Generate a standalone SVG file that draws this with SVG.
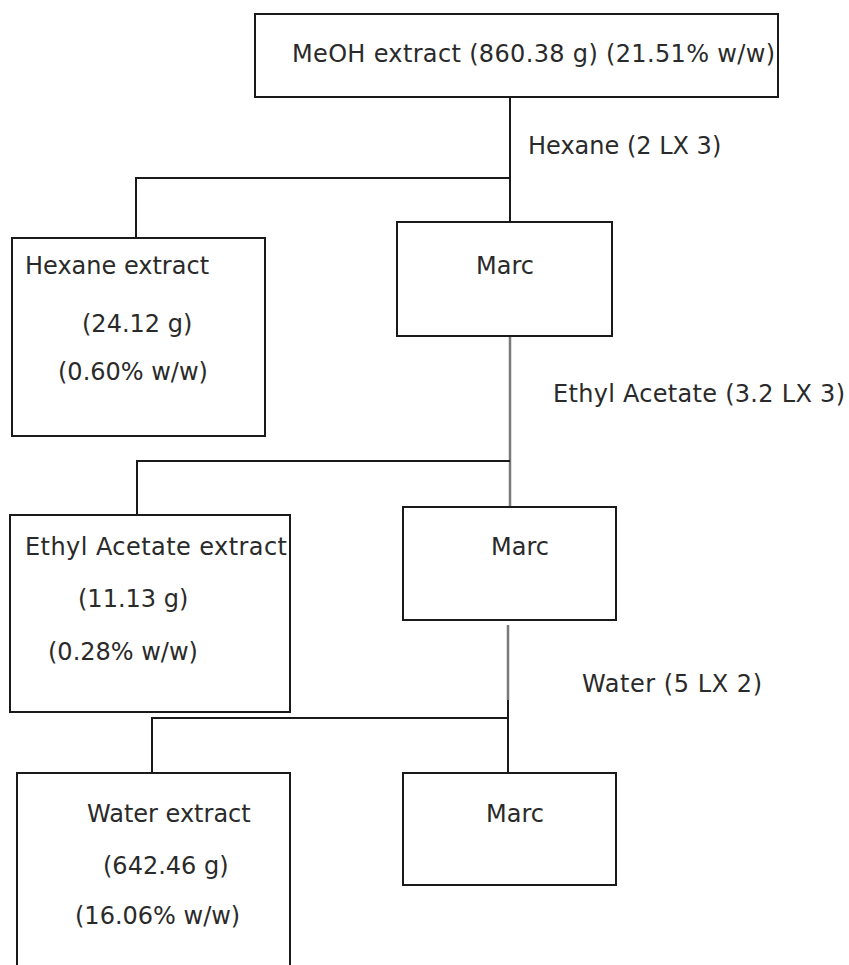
<svg xmlns="http://www.w3.org/2000/svg" width="849" height="965" viewBox="0 0 849 965">
<style>
.box{fill:#fff;stroke:#1a1a1a;stroke-width:2}
.t{font-family:"DejaVu Sans","Liberation Sans",sans-serif;font-size:24px;fill:#2a2a2a}
.c{fill:none;stroke:#1a1a1a;stroke-width:2}
.g{fill:none;stroke:#7a7a7a;stroke-width:2.5}
</style>
<rect width="849" height="965" fill="#fff"/>
<g id="connectors">
<line class="c" x1="510" y1="97" x2="510" y2="222"/>
<polyline class="c" points="136,238 136,178 510,178"/>
<line class="g" x1="510" y1="336" x2="510" y2="507"/>
<polyline class="c" points="137,515 137,461 510,461"/>
<line class="g" x1="508" y1="625" x2="508" y2="700"/>
<line class="c" x1="508" y1="700" x2="508" y2="773"/>
<polyline class="c" points="152,773 152,718 508,718"/>
</g>
<g id="meoh">
<rect class="box" x="255" y="14" width="523" height="83"/>
<text class="t" x="292" y="62" textLength="483">MeOH extract (860.38 g) (21.51% w/w)</text>
</g>
<g id="label-hexane">
<text class="t" x="528" y="154">Hexane (2 LX 3)</text>
</g>
<g id="hexane-extract">
<rect class="box" x="12" y="238" width="253" height="198"/>
<text class="t" x="25" y="274">Hexane extract</text>
<text class="t" x="82" y="332">(24.12 g)</text>
<text class="t" x="58" y="380">(0.60% w/w)</text>
</g>
<g id="marc1">
<rect class="box" x="397" y="222" width="215" height="114"/>
<text class="t" x="505" y="274" text-anchor="middle">Marc</text>
</g>
<g id="label-ethyl">
<text class="t" x="553" y="402" textLength="292">Ethyl Acetate (3.2 LX 3)</text>
</g>
<g id="ethyl-extract">
<rect class="box" x="10" y="515" width="280" height="197"/>
<text class="t" x="25" y="555" textLength="262">Ethyl Acetate extract</text>
<text class="t" x="78" y="607">(11.13 g)</text>
<text class="t" x="48" y="660">(0.28% w/w)</text>
</g>
<g id="marc2">
<rect class="box" x="403" y="507" width="213" height="113"/>
<text class="t" x="520" y="555" text-anchor="middle">Marc</text>
</g>
<g id="label-water">
<text class="t" x="582" y="692" textLength="180">Water (5 LX 2)</text>
</g>
<g id="water-extract">
<rect class="box" x="17" y="773" width="273" height="200"/>
<text class="t" x="87" y="822">Water extract</text>
<text class="t" x="103" y="874">(642.46 g)</text>
<text class="t" x="75" y="924">(16.06% w/w)</text>
</g>
<g id="marc3">
<rect class="box" x="403" y="773" width="213" height="112"/>
<text class="t" x="515" y="822" text-anchor="middle">Marc</text>
</g>
</svg>
